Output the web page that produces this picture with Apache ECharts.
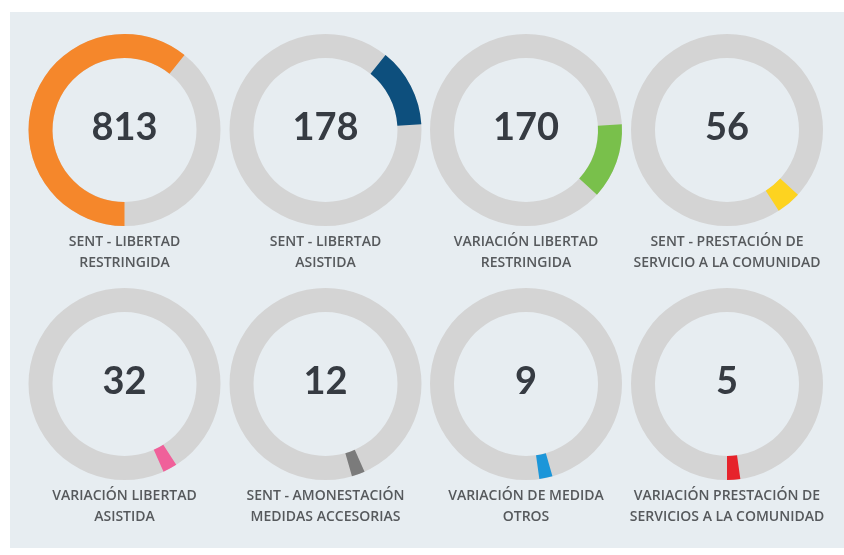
<!DOCTYPE html>
<html>
<head>
<meta charset="utf-8">
<script src="https://cdn.jsdelivr.net/npm/echarts@6/dist/echarts.min.js"></script>
<style>
html, body { margin: 0; padding: 0; background: #ffffff; }
#panel { position: absolute; left: 10px; top: 12px; width: 834px; height: 536px; background: #e7edf1; }
#main { position: absolute; left: 0; top: 0; width: 844px; height: 555px; }
</style>
</head>
<body>
<div id="panel"></div>
<div id="main"></div>
<script>
// categories (labels under each ring) and their totals
const categories = [
    'SENT - LIBERTAD\nRESTRINGIDA',
    'SENT - LIBERTAD\nASISTIDA',
    'VARIACIÓN LIBERTAD\nRESTRINGIDA',
    'SENT - PRESTACIÓN DE\nSERVICIO A LA COMUNIDAD',
    'VARIACIÓN LIBERTAD\nASISTIDA',
    'SENT - AMONESTACIÓN\nMEDIDAS ACCESORIAS',
    'VARIACIÓN DE MEDIDA\nOTROS',
    'VARIACIÓN PRESTACIÓN DE\nSERVICIOS A LA COMUNIDAD'
];
const values = [813, 178, 170, 56, 32, 12, 9, 5];
const colors = ['#f5872b', '#0d4f7d', '#79c04b', '#fdd320', '#f0609a', '#7b7b7b', '#1c96d9', '#e6232b'];

const colX = [124.5, 325.5, 526, 727];
const rowY = [130, 384];
const ringR = [72, 96];
const track = '#d4d4d4';

let myChart = echarts.init(document.getElementById('main'));

let series = [];
let titles = [];

values.forEach((v, i) => {
    let cx = colX[i % 4];
    let cy = rowY[Math.floor(i / 4)];

    // grey track
    series.push({
        type: 'pie',
        silent: true,
        radius: ringR,
        center: [cx, cy],
        label: { show: false },
        labelLine: { show: false },
        itemStyle: { color: track, borderWidth: 0 },
        data: [1]
    });

    // all categories in one ring, only this one coloured
    series.push({
        type: 'pie',
        silent: true,
        radius: ringR,
        center: [cx, cy],
        startAngle: 270,
        minAngle: 8,
        label: { show: false },
        labelLine: { show: false },
        data: values.map((d, j) => ({
            value: d,
            name: categories[j],
            itemStyle: { color: j === i ? colors[i] : 'transparent', borderWidth: 0 }
        }))
    });

    titles.push({
        text: String(v),
        left: cx,
        top: cy - 2,
        padding: 0,
        textAlign: 'center',
        textVerticalAlign: 'middle',
        textStyle: { fontFamily: 'Lato', fontWeight: 'bold', fontSize: 38, color: '#363b42' }
    });

    titles.push({
        text: categories[i],
        left: cx,
        top: cy + 102,
        padding: 0,
        textAlign: 'center',
        textStyle: { fontFamily: 'Open Sans', fontWeight: 600, fontSize: 14, lineHeight: 21, color: '#56595c' }
    });
});

myChart.setOption({
    animation: false,
    title: titles,
    series: series
});
</script>
</body>
</html>
